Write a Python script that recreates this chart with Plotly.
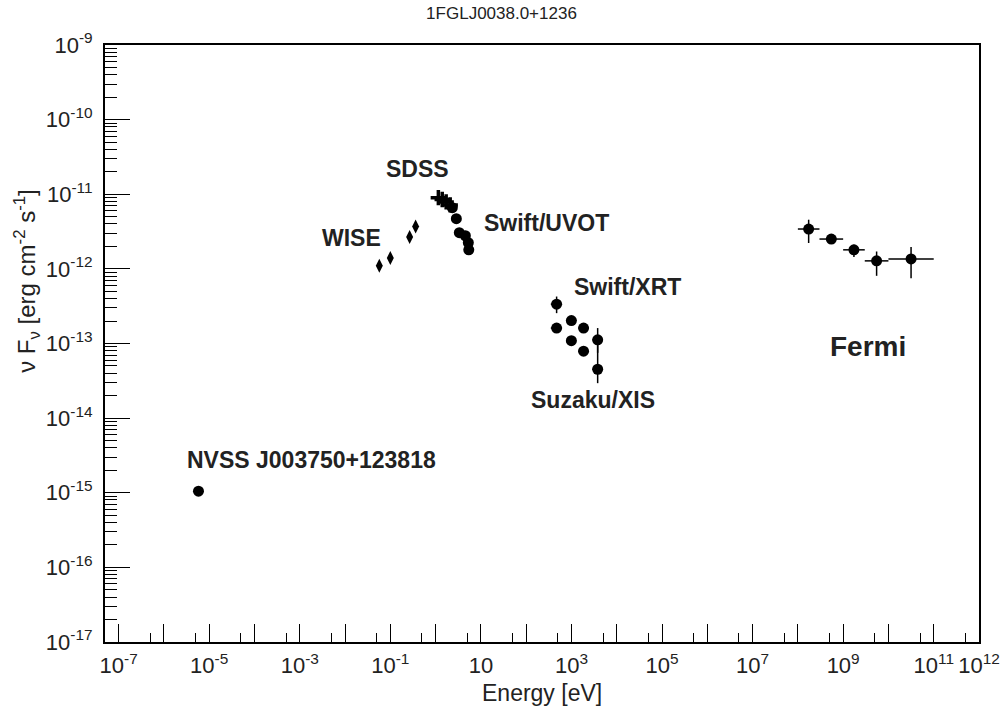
import numpy as np
import plotly.graph_objects as go

# ---------------- data ----------------
nvss_x = [5.8e-6]
nvss_y = [1.05e-15]

wise_x = [0.0571, 0.100, 0.267, 0.362]
wise_y = [1.10e-12, 1.40e-12, 2.67e-12, 3.71e-12]

sdss_x = [1.15, 1.40, 1.71, 2.10]
sdss_y = [9.0e-12, 8.5e-12, 7.9e-12, 7.2e-12]

uvot_x = [2.34, 2.87, 3.34, 4.54, 5.28, 5.40]
uvot_y = [6.6e-12, 4.7e-12, 3.05e-12, 2.78e-12, 2.24e-12, 1.80e-12]

xrt_x = [470, 995, 1850, 3790]
xrt_y = [3.37e-13, 2.03e-13, 1.61e-13, 1.12e-13]
xrt_ylo = [2.55e-13, 1.85e-13, 1.45e-13, 7.5e-14]
xrt_yhi = [4.26e-13, 2.25e-13, 1.78e-13, 1.61e-13]
xrt_xlo = [350, 760, 1420, 2900]
xrt_xhi = [620, 1290, 2400, 4900]

xis_x = [470, 995, 1850, 3790]
xis_y = [1.61e-13, 1.09e-13, 7.9e-14, 4.52e-14]
xis_ylo = [1.45e-13, 9.8e-14, 7.0e-14, 2.94e-14]
xis_yhi = [1.78e-13, 1.21e-13, 8.9e-14, 9.6e-14]
xis_xlo = [350, 760, 1420, 2900]
xis_xhi = [620, 1290, 2400, 4900]

fermi_x = [1.73e8, 5.48e8, 1.73e9, 5.48e9, 3.16e10]
fermi_xlo = [1e8, 3e8, 1e9, 3e9, 1e10]
fermi_xhi = [3e8, 1e9, 3e9, 1e10, 1e11]
fermi_y = [3.42e-12, 2.51e-12, 1.80e-12, 1.28e-12, 1.36e-12]
fermi_ylo = [2.22e-12, 2.30e-12, 1.44e-12, 8.07e-13, 7.5e-13]
fermi_yhi = [4.56e-12, 2.75e-12, 2.10e-12, 1.71e-12, 1.96e-12]

x_decades = list(range(-7, 13))
x_labeled = [-7, -5, -3, -1, 1, 3, 5, 7, 9, 11, 12]
y_decades = list(range(-17, -8))

FONT = "Liberation Sans, Arial, Helvetica, sans-serif"

def errs(v, lo, hi):
    v = np.array(v); return (np.array(hi) - v).tolist(), (v - np.array(lo)).tolist()

fig = go.Figure()

circle = dict(symbol="circle", size=11, color="black")

fig.add_trace(go.Scatter(x=nvss_x, y=nvss_y, mode="markers", marker=circle, name="NVSS"))
fig.add_trace(go.Scatter(x=wise_x, y=wise_y, mode="markers",
                         marker=dict(symbol="diamond-tall", size=10, color="black"), name="WISE"))
fig.add_trace(go.Scatter(x=sdss_x, y=sdss_y, mode="markers",
                         marker=dict(symbol="cross-thin-open", size=11, color="black",
                                     line=dict(width=3.5, color="black")), name="SDSS"))
fig.add_trace(go.Scatter(x=uvot_x, y=uvot_y, mode="markers", marker=circle, name="UVOT"))

for xs, ys, xlo, xhi, ylo, yhi, nm in [
    (xrt_x, xrt_y, xrt_xlo, xrt_xhi, xrt_ylo, xrt_yhi, "XRT"),
    (xis_x, xis_y, xis_xlo, xis_xhi, xis_ylo, xis_yhi, "XIS"),
    (fermi_x, fermi_y, fermi_xlo, fermi_xhi, fermi_ylo, fermi_yhi, "Fermi"),
]:
    ep, em = errs(ys, ylo, yhi)
    xp, xm = errs(xs, xlo, xhi)
    fig.add_trace(go.Scatter(
        x=xs, y=ys, mode="markers", marker=circle, name=nm,
        error_y=dict(type="data", symmetric=False, array=ep, arrayminus=em,
                     color="black", thickness=1.5, width=0),
        error_x=dict(type="data", symmetric=False, array=xp, arrayminus=xm,
                     color="black", thickness=1.5, width=0),
    ))

def sup_label(e):
    return "10" if e == 1 else f"10<sup>{e}</sup>"

x_tickvals = [10.0 ** e for e in x_decades]
x_ticktext = [sup_label(e) if e in x_labeled else "" for e in x_decades]
x_minor = [5 * 10.0 ** e for e in range(-8, 12)]

y_tickvals = [10.0 ** e for e in y_decades]
y_ticktext = [sup_label(e) for e in y_decades]
y_minor = [k * 10.0 ** e for e in range(-17, -9) for k in range(2, 10)]

fig.update_xaxes(
    type="log", range=[np.log10(5e-8), 12], automargin=False,
    tickmode="array", tickvals=x_tickvals, ticktext=x_ticktext,
    ticks="inside", ticklen=18, tickwidth=1.3, tickcolor="black",
    minor=dict(tickmode="array", tickvals=x_minor, ticks="inside", ticklen=9,
               tickwidth=1.3, tickcolor="black", showgrid=False),
    showline=True, linecolor="black", linewidth=2, mirror=True,
    showgrid=False, zeroline=False,
    tickfont=dict(family=FONT, size=22, color="#222"),
    ticklabelstandoff=3,
)
fig.update_yaxes(
    type="log", range=[-17, -9], automargin=False,
    tickmode="array", tickvals=y_tickvals, ticktext=y_ticktext,
    ticks="inside", ticklen=25, tickwidth=1.3, tickcolor="black",
    minor=dict(tickmode="array", tickvals=y_minor, ticks="inside", ticklen=12,
               tickwidth=1.3, tickcolor="black", showgrid=False),
    showline=True, linecolor="black", linewidth=2, mirror=True,
    showgrid=False, zeroline=False,
    tickfont=dict(family=FONT, size=22, color="#222"),
    ticklabelstandoff=6,
)

ann_font = dict(family=FONT, size=23, color="#222")
annotations = [
    dict(x=-0.403, y=-10.657, text="<b>SDSS</b>", xanchor="center"),
    dict(x=-1.861, y=-11.583, text="<b>WISE</b>", xanchor="center"),
    dict(x=1.026, y=-11.382, text="<b>Swift/UVOT</b>", xanchor="left"),
    dict(x=3.013, y=-12.24, text="<b>Swift/XRT</b>", xanchor="left"),
    dict(x=2.055, y=-13.756, text="<b>Suzaku/XIS</b>", xanchor="left"),
    dict(x=-5.527, y=-14.561, text="<b>NVSS J003750+123818</b>", xanchor="left"),
]
for a in annotations:
    fig.add_annotation(xref="x", yref="y", yanchor="middle", showarrow=False,
                       font=ann_font, **a)
fig.add_annotation(xref="x", yref="y", x=9.546, y=-13.045, text="<b>Fermi</b>",
                   showarrow=False, xanchor="center", yanchor="middle",
                   font=dict(family=FONT, size=28, color="#222"))

# axis titles
fig.add_annotation(xref="paper", yref="paper", x=0.5, y=-0.0855, text="Energy [eV]",
                   showarrow=False, xanchor="center", yanchor="middle",
                   font=dict(family=FONT, size=23, color="#222"))
fig.add_annotation(xref="paper", yref="paper", x=-0.0892, y=0.605,
                   text="\u03bd F<sub>\u03bd</sub> [erg cm<sup>-2</sup> s<sup>-1</sup>]",
                   textangle=-90, showarrow=False, xanchor="center", yanchor="middle",
                   font=dict(family=FONT, size=24, color="#222"))

fig.update_layout(
    width=1003, height=708,
    margin=dict(l=105, r=24, t=45, b=66),
    paper_bgcolor="white", plot_bgcolor="white",
    showlegend=False,
    title=dict(text="1FGLJ0038.0+1236", x=0.5, xref="container", xanchor="center",
               y=1 - 13 / 708, yref="container", yanchor="middle",
               font=dict(family=FONT, size=17, color="#222")),
)

fig.write_html("out.html")
